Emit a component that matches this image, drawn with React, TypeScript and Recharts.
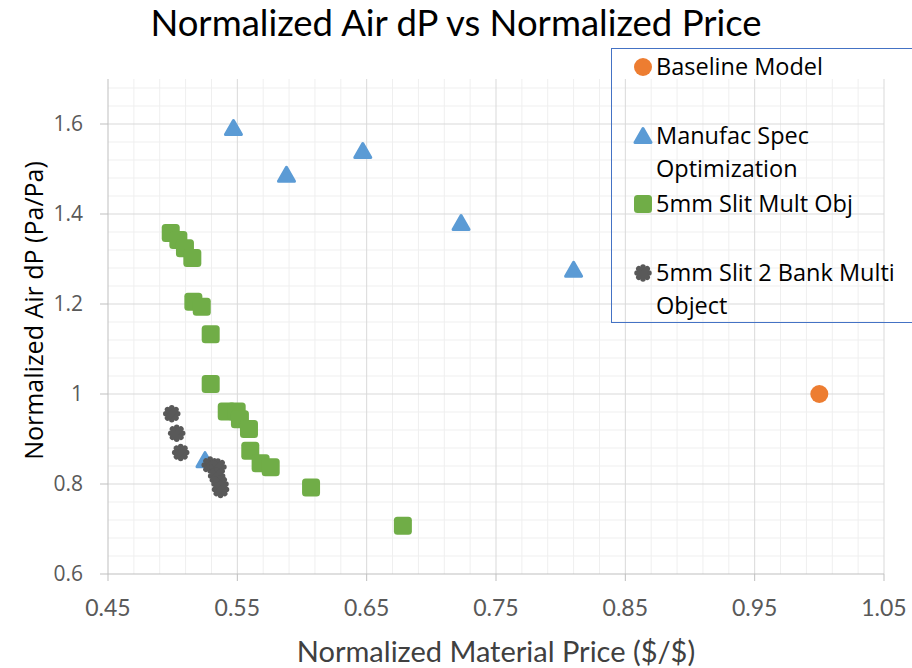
import React from "react";
import {
  ScatterChart, Scatter, XAxis, YAxis, ReferenceLine, Label,
} from "recharts";

// price (x) vs air dP (y), both normalized to the baseline
const baseline = [{ x: 1.0, y: 1.0 }];

const manufacSpec = [
  { x: 0.547, y: 1.591 },
  { x: 0.588, y: 1.487 },
  { x: 0.647, y: 1.54 },
  { x: 0.723, y: 1.38 },
  { x: 0.81, y: 1.276 },
  { x: 0.525, y: 0.853 },
];

const slitMultObj = [
  { x: 0.4985, y: 1.358 },
  { x: 0.5044, y: 1.342 },
  { x: 0.5095, y: 1.324 },
  { x: 0.5152, y: 1.302 },
  { x: 0.516, y: 1.205 },
  { x: 0.5225, y: 1.194 },
  { x: 0.5294, y: 1.133 },
  { x: 0.5294, y: 1.022 },
  { x: 0.5418, y: 0.961 },
  { x: 0.5495, y: 0.961 },
  { x: 0.552, y: 0.944 },
  { x: 0.559, y: 0.922 },
  { x: 0.56, y: 0.874 },
  { x: 0.568, y: 0.846 },
  { x: 0.5758, y: 0.837 },
  { x: 0.607, y: 0.792 },
  { x: 0.678, y: 0.707 },
];

const slit2Bank = [
  { x: 0.4993, y: 0.956 },
  { x: 0.5031, y: 0.913 },
  { x: 0.5062, y: 0.87 },
  { x: 0.529, y: 0.842 },
  { x: 0.535, y: 0.838 },
  { x: 0.534, y: 0.818 },
  { x: 0.5366, y: 0.8 },
  { x: 0.537, y: 0.788 },
];

const xTicks = [0.45, 0.55, 0.65, 0.75, 0.85, 0.95, 1.05];
const yTicks = [0.6, 0.8, 1, 1.2, 1.4, 1.6];

// Excel-style minor gridlines (major / 5)
const xMinor: number[] = [];
for (let i = 1; i < 30; i++) if (i % 5 !== 0) xMinor.push(+(0.45 + i * 0.02).toFixed(2));
const yMinor: number[] = [];
for (let i = 1; i < 28; i++) if (i % 5 !== 0) yMinor.push(+(0.6 + i * 0.04).toFixed(2));

const C = {
  orange: "#ED7D31",
  blue: "#5B9BD5",
  green: "#70AD47",
  grey: "#595959",
  majorGrid: "#d9d9d9",
  minorGrid: "#efefef",
  axis: "#bfbfbf",
  tick: "#595959",
};

const FONT = "Lato, 'Open Sans', sans-serif";
const LEGEND_FONT = "'Open Sans', 'Noto Sans', sans-serif";

function Circle({ cx, cy }: any) {
  return <circle cx={cx} cy={cy} r={9} fill={C.orange} />;
}

function Triangle({ cx, cy }: any) {
  return (
    <polygon
      points={`${cx},${cy - 7.5} ${cx + 8},${cy + 6.5} ${cx - 8},${cy + 6.5}`}
      fill={C.blue} stroke={C.blue} strokeWidth={3} strokeLinejoin="round"
    />
  );
}

function Square({ cx, cy }: any) {
  return <rect x={cx - 9} y={cy - 9} width={18} height={18} rx={3.5} fill={C.green} />;
}

function Asterisk({ cx, cy }: any) {
  const r = 6, d = r * 0.707;
  return (
    <g stroke={C.grey} strokeWidth={5.5} strokeLinecap="round">
      <line x1={cx - r} y1={cy} x2={cx + r} y2={cy} />
      <line x1={cx} y1={cy - r} x2={cx} y2={cy + r} />
      <line x1={cx - d} y1={cy - d} x2={cx + d} y2={cy + d} />
      <line x1={cx - d} y1={cy + d} x2={cx + d} y2={cy - d} />
    </g>
  );
}

const legendItems = [
  { lines: ["Baseline Model"], Shape: Circle },
  { lines: ["Manufac Spec", "Optimization"], Shape: Triangle },
  { lines: ["5mm Slit Mult Obj"], Shape: Square },
  { lines: ["5mm Slit 2 Bank Multi", "Object"], Shape: Asterisk },
];

function LegendBox() {
  return (
    <div style={{
      position: "absolute", left: 611, top: 48, width: 320, height: 275,
      border: "1.5px solid #4472C4", boxSizing: "border-box",
      paddingTop: 1, fontFamily: LEGEND_FONT, fontSize: 23.5, color: "#000",
    }}>
      {legendItems.map(({ lines, Shape }, i) => (
        <div key={i} style={{ height: 68.5, display: "flex" }}>
          <svg width={44} height={33} style={{ flex: "none" }}>
            <Shape cx={31} cy={17} />
          </svg>
          <div style={{ lineHeight: "33px", whiteSpace: "nowrap" }}>
            {lines.map((l) => <div key={l}>{l}</div>)}
          </div>
        </div>
      ))}
    </div>
  );
}

export default function App() {
  return (
    <div style={{ position: "absolute", left: 0, top: 0, width: 912, height: 668, overflow: "hidden", background: "#fff" }}>
      <div style={{
        position: "absolute", left: 0, top: 2, width: 912, textAlign: "center",
        fontFamily: FONT, fontSize: 36.5, lineHeight: "40px", color: "#000", zIndex: 2,
      }}>
        Normalized Air dP vs Normalized Price
      </div>
      <ScatterChart width={912} height={668} margin={{ top: 79, right: 28, bottom: 0, left: 0 }}>
        {xMinor.map((v) => <ReferenceLine key={"xm" + v} x={v} stroke={C.minorGrid} strokeWidth={1} />)}
        {yMinor.map((v) => <ReferenceLine key={"ym" + v} y={v} stroke={C.minorGrid} strokeWidth={1} />)}
        {xTicks.slice(1).map((v) => <ReferenceLine key={"xM" + v} x={v} stroke={C.majorGrid} strokeWidth={1} />)}
        {yTicks.slice(1).map((v) => <ReferenceLine key={"yM" + v} y={v} stroke={C.majorGrid} strokeWidth={1} />)}

        <XAxis
          type="number" dataKey="x" domain={[0.45, 1.05]} ticks={xTicks} interval={0}
          tickFormatter={(v) => v.toFixed(2)}
          height={94} tickSize={7} tickMargin={19}
          stroke={C.axis}
          tick={{ fill: C.tick, fontSize: 23, fontFamily: FONT }}
        >
          <Label value="Normalized Material Price ($/$)" position="insideBottom" offset={6}
            style={{ fill: "#404040", fontSize: 29, fontFamily: FONT }} />
        </XAxis>
        <YAxis
          type="number" dataKey="y" domain={[0.6, 1.7]} ticks={yTicks} interval={0}
          tickFormatter={(v) => String(v)}
          width={108} tickSize={8} tickMargin={17}
          stroke={C.axis}
          tick={{ fill: C.tick, fontSize: 21, fontFamily: LEGEND_FONT }}
        >
          <Label
            content={({ viewBox }: any) => (
              <text
                x={33} y={viewBox.y + viewBox.height / 2 - 16}
                transform={`rotate(-90 33 ${viewBox.y + viewBox.height / 2 - 16})`}
                textAnchor="middle" dominantBaseline="central"
                style={{ fill: "#000", fontSize: 25, fontFamily: LEGEND_FONT }}
              >
                Normalized Air dP (Pa/Pa)
              </text>
            )}
          />
        </YAxis>

        <Scatter name="Baseline Model" data={baseline} shape={(p: any) => <Circle {...p} />} isAnimationActive={false} />
        <Scatter name="Manufac Spec Optimization" data={manufacSpec} shape={(p: any) => <Triangle {...p} />} isAnimationActive={false} />
        <Scatter name="5mm Slit Mult Obj" data={slitMultObj} shape={(p: any) => <Square {...p} />} isAnimationActive={false} />
        <Scatter name="5mm Slit 2 Bank Multi Object" data={slit2Bank} shape={(p: any) => <Asterisk {...p} />} isAnimationActive={false} />
      </ScatterChart>
      <LegendBox />
    </div>
  );
}
